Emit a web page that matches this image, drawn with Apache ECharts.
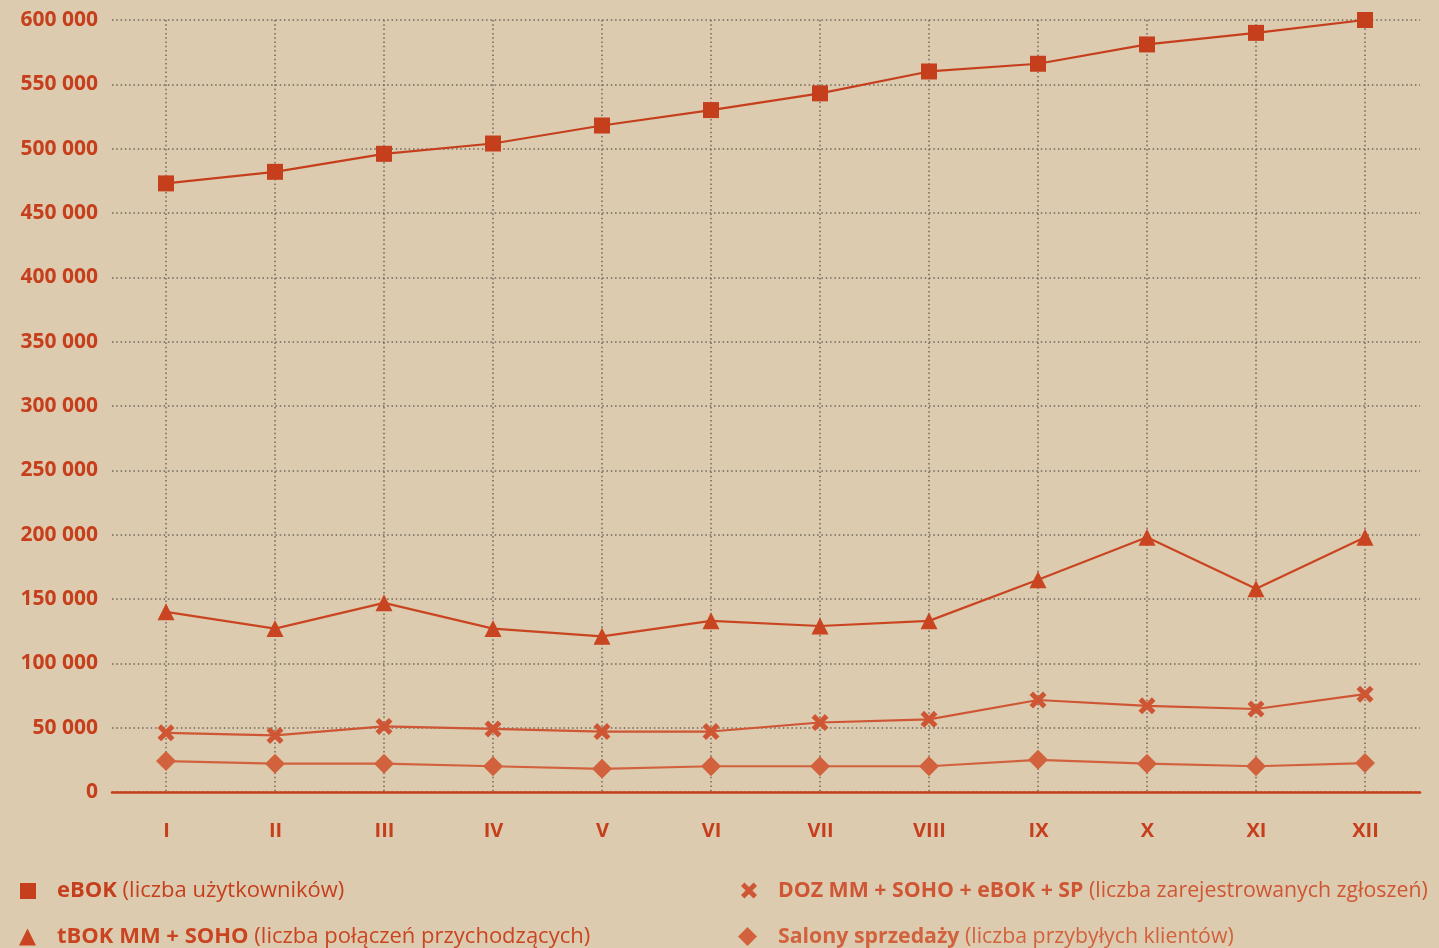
<!DOCTYPE html>
<html>
<head>
<meta charset="utf-8">
<title>Kanały obsługi klienta – miesięcznie</title>
<script src="https://cdn.jsdelivr.net/npm/echarts@6/dist/echarts.min.js"></script>
<style>
  html, body { margin: 0; padding: 0; background: #ddcbaf; }
  #chart { width: 1439px; height: 948px; }
</style>
</head>
<body>
<div id="chart"></div>
<script>
// Months (Roman numerals) and y-axis ticks
const months = ['I', 'II', 'III', 'IV', 'V', 'VI', 'VII', 'VIII', 'IX', 'X', 'XI', 'XII'];
const yTicks = [0, 50000, 100000, 150000, 200000, 250000, 300000, 350000, 400000, 450000, 500000, 550000, 600000];

// Series values per month
const eBOK = [473000, 482000, 496000, 504000, 518000, 530000, 543000, 560000, 566000, 581000, 590000, 600000];
const tBOK = [140000, 127000, 147000, 127000, 121000, 133000, 129000, 133000, 165000, 198000, 158000, 198000];
const DOZ = [46000, 44000, 51000, 49000, 47000, 47000, 54000, 56500, 71500, 67000, 64500, 76000];
const salony = [24000, 22000, 22000, 20000, 18000, 20000, 20000, 20000, 25000, 22000, 20000, 22500];

// Legend names and their descriptions
const seriesNames = ['eBOK', 'tBOK MM + SOHO', 'DOZ MM + SOHO + eBOK + SP', 'Salony sprzedaży'];
const seriesNotes = ['(liczba użytkowników)', '(liczba połączeń przychodzących)', '(liczba zarejestrowanych zgłoszeń)', '(liczba przybyłych klientów)'];

const RED = '#c63f1d';
const RED2 = '#c94521';
const ORANGE = '#cf5634';
const ORANGE2 = '#d2623e';
const FONT = '"Open Sans", "Noto Sans", sans-serif';
const CROSS = 'path://M0,3.4 L3.4,0 L8,4.6 L12.6,0 L16,3.4 L11.4,8 L16,12.6 L12.6,16 L8,11.4 L3.4,16 L0,12.6 L4.6,8 Z';

const noteOf = {};
seriesNames.forEach((n, i) => { noteOf[n] = seriesNotes[i]; });

function legendFor(name, icon, color, left, top, size, fontSize) {
  return {
    data: [{ name: name, icon: icon }],
    left: left,
    top: top,
    padding: 0,
    orient: 'horizontal',
    itemWidth: size,
    itemHeight: size,
    selectedMode: false,
    formatter: n => '{b|' + n + '}{n| ' + noteOf[n] + '}',
    textStyle: {
      padding: [0, 0, 0, 16],
      rich: {
        b: { fontFamily: FONT, fontWeight: 'bold', fontSize: fontSize, color: color },
        n: { fontFamily: FONT, fontWeight: 'normal', fontSize: fontSize, color: color }
      }
    }
  };
}

const grid = { top: 20, bottom: 156 };

const chart = echarts.init(document.getElementById('chart'));
chart.setOption({
  backgroundColor: '#ddcbaf',
  animation: false,
  grid: [
    Object.assign({ left: 112, right: 19 }, grid),
    Object.assign({ left: 166, right: 74 }, grid)
  ],
  xAxis: [
    {
      type: 'category', gridIndex: 0, data: months, boundaryGap: true,
      axisLine: { lineStyle: { color: RED, width: 2.5 } },
      axisTick: { show: false },
      splitLine: { show: false },
      axisLabel: { margin: 29, color: RED, fontFamily: FONT, fontWeight: 'bold', fontSize: 20 }
    },
    {
      type: 'category', gridIndex: 1, data: months, boundaryGap: false,
      axisLine: { show: false }, axisTick: { show: false }, axisLabel: { show: false },
      splitLine: { show: true, lineStyle: { color: '#6f685d', width: 1.5, type: [1.5, 2.8] } }
    }
  ],
  yAxis: [
    {
      type: 'value', gridIndex: 0, min: yTicks[0], max: yTicks[yTicks.length - 1], interval: yTicks[1] - yTicks[0],
      axisLine: { show: false }, axisTick: { show: false },
      axisLabel: {
        margin: 14, color: RED, fontFamily: FONT, fontWeight: 'bold', fontSize: 21,
        formatter: v => String(v).replace(/\B(?=(\d{3})+(?!\d))/g, ' ')
      },
      splitLine: { lineStyle: { color: '#6f685d', width: 1.5, type: [1.5, 2.8] } }
    },
    {
      type: 'value', gridIndex: 1, min: yTicks[0], max: yTicks[yTicks.length - 1], interval: yTicks[1] - yTicks[0],
      show: false, splitLine: { show: false }
    }
  ],
  legend: [
    legendFor(seriesNames[0], 'rect', RED, 20, 880, 16, 22),
    legendFor(seriesNames[1], 'triangle', RED2, 19, 926, 17, 22),
    legendFor(seriesNames[2], CROSS, ORANGE, 741, 880, 16, 21.3),
    legendFor(seriesNames[3], 'diamond', ORANGE2, 738, 926, 19, 21.3)
  ],
  series: [
    {
      name: seriesNames[0], type: 'line', xAxisIndex: 1, yAxisIndex: 1, data: eBOK,
      symbol: 'rect', symbolSize: 16,
      lineStyle: { color: RED, width: 2.2 }, itemStyle: { color: RED }
    },
    {
      name: seriesNames[1], type: 'line', xAxisIndex: 1, yAxisIndex: 1, data: tBOK,
      symbol: 'triangle', symbolSize: 17,
      lineStyle: { color: RED2, width: 2.2 }, itemStyle: { color: RED2 }
    },
    {
      name: seriesNames[2], type: 'line', xAxisIndex: 1, yAxisIndex: 1, data: DOZ,
      symbol: CROSS, symbolSize: 17,
      lineStyle: { color: ORANGE, width: 2.2 }, itemStyle: { color: ORANGE }
    },
    {
      name: seriesNames[3], type: 'line', xAxisIndex: 1, yAxisIndex: 1, data: salony,
      symbol: 'diamond', symbolSize: 20,
      lineStyle: { color: ORANGE2, width: 2.2 }, itemStyle: { color: ORANGE2 }
    }
  ]
});
</script>
</body>
</html>
